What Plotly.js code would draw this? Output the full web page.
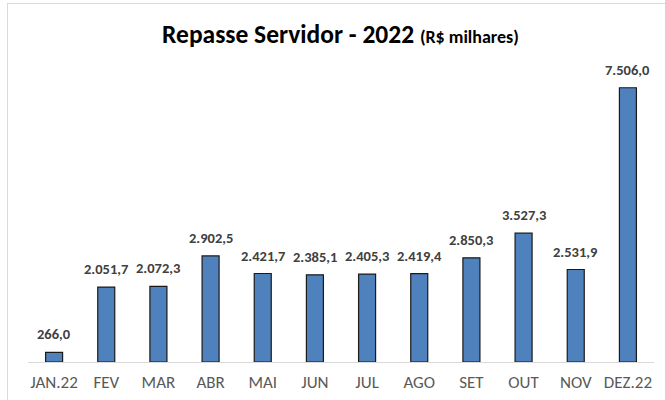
<!DOCTYPE html>
<html>
<head>
<meta charset="utf-8">
<script src="https://cdn.plot.ly/plotly-3.0.1.min.js"></script>
<style>
html,body{margin:0;padding:0;background:#fff;}
#wrap{position:relative;width:665px;height:400px;overflow:hidden;}
#frame{position:absolute;left:7px;top:3px;width:700px;height:420px;border:1px solid #d9d9d9;box-sizing:border-box;pointer-events:none;z-index:5;}
#chart{position:absolute;left:0;top:0;width:665px;height:400px;}
</style>
</head>
<body>
<div id="wrap"><div id="chart"></div><div id="frame"></div></div>
<script>
const months = ["JAN.22","FEV","MAR","ABR","MAI","JUN","JUL","AGO","SET","OUT","NOV","DEZ.22"];
const values = [266.0, 2051.7, 2072.3, 2902.5, 2421.7, 2385.1, 2405.3, 2419.4, 2850.3, 3527.3, 2531.9, 7506.0];
const titleMain = "Repasse Servidor - 2022";
const titleUnit = "(R$ milhares)";

const FONT = "Carlito, 'Liberation Sans Narrow', Calibri, Arial, sans-serif";

function fmt(v) {
  const parts = v.toFixed(1).split('.');
  const intPart = parts[0].replace(/\B(?=(\d{3})+(?!\d))/g, '.');
  return intPart + ',' + parts[1];
}

const annotations = months.map((m, i) => ({
  x: m, y: values[i], xref: 'x', yref: 'y',
  text: '<b>' + fmt(values[i]) + '</b>',
  showarrow: false, yanchor: 'bottom', xanchor: 'center',
  yshift: 7,
  font: {family: FONT, size: 14.5, color: '#404040'}
}));

Plotly.newPlot('chart', [{
  type: 'bar',
  x: months,
  y: values,
  marker: {color: '#4f81bd', line: {color: '#1a1a1a', width: 1.2}},
  hoverinfo: 'none'
}], {
  width: 665, height: 400,
  margin: {l: 28, r: 11, t: 60, b: 38},
  paper_bgcolor: '#ffffff',
  plot_bgcolor: '#ffffff',
  bargap: 0.674,
  showlegend: false,
  annotations: annotations,
  title: {
    text: '<b>' + titleMain + ' <span style="font-size:18px">' + titleUnit + '</span></b>',
    x: 0.512, xanchor: 'center', y: 0.915, yanchor: 'middle',
    font: {family: FONT, size: 25.5, color: '#000000'}
  },
  xaxis: {
    showline: true, linecolor: '#d9d9d9', linewidth: 1,
    ticks: '', showgrid: false, zeroline: false,
    tickfont: {family: FONT, size: 17, color: '#595959'},
    ticklabelstandoff: 5
  },
  yaxis: {
    range: [0, 8266], visible: false, showgrid: false, zeroline: false
  }
}, {displayModeBar: false, staticPlot: true});
</script>
</body>
</html>
